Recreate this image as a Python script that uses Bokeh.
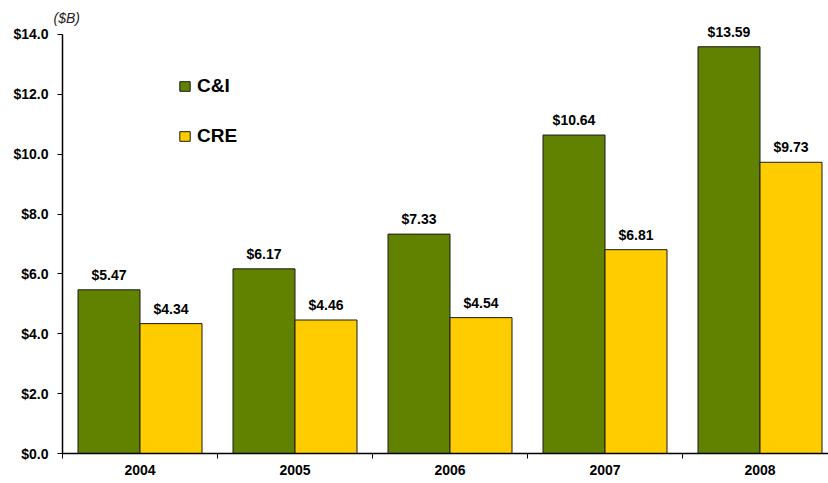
from bokeh.plotting import figure
from bokeh.models import (FixedTicker, Range1d, ColumnDataSource, Legend, LegendItem,
                          Label, NumeralTickFormatter)
from bokeh.embed import file_html
from bokeh.resources import INLINE
from bokeh.core.properties import value

years = ["2004", "2005", "2006", "2007", "2008"]
ci = [5.47, 6.17, 7.33, 10.64, 13.59]
cre = [4.34, 4.46, 4.54, 6.81, 9.73]
y_ticks = [0, 2, 4, 6, 8, 10, 12, 14]

GREEN = "#608200"
YELLOW = "#FFCC00"
FONT = "Liberation Sans"

n = len(years)
centers = [i + 0.5 for i in range(n)]
bounds = [i for i in range(n + 1)]
src = ColumnDataSource(dict(
    x_ci=[c - 0.2 for c in centers],
    x_cre=[c + 0.2 for c in centers],
    ci=ci, cre=cre,
    ci_lab=[f"${v:.2f}" for v in ci],
    cre_lab=[f"${v:.2f}" for v in cre],
))

W, H = 828, 483
PX_PER_UNIT = 29.93
AXIS_Y_PX = 453            # pixel row of the x axis (value 0)
Y_START = -(H - AXIS_Y_PX) / PX_PER_UNIT
Y_END = AXIS_Y_PX / PX_PER_UNIT
CAT_PX = 155
LEFT_PX = 62
X_START = -LEFT_PX / CAT_PX
X_END = (W - LEFT_PX) / CAT_PX

p = figure(width=W, height=H, output_backend="svg", toolbar_location=None,
           x_range=Range1d(X_START, X_END), y_range=Range1d(Y_START, Y_END),
           min_border_left=0, min_border_right=0, min_border_top=0,
           min_border_bottom=0)
p.outline_line_color = None
p.xgrid.visible = False
p.ygrid.visible = False
p.background_fill_color = "white"
p.border_fill_color = "white"

r1 = p.vbar(x="x_ci", top="ci", bottom=0, width=0.4, source=src, fill_color=GREEN,
            line_color="#1a1a1a", line_width=1)
r2 = p.vbar(x="x_cre", top="cre", bottom=0, width=0.4, source=src, fill_color=YELLOW,
            line_color="#1a1a1a", line_width=1)

for xcol, ycol, tcol in (("x_ci", "ci", "ci_lab"), ("x_cre", "cre", "cre_lab")):
    p.text(x=xcol, y=ycol, text=tcol, source=src, text_align="center",
           text_baseline="bottom", y_offset=-7, text_font=value(FONT),
           text_font_style="bold", text_font_size="14px", text_color="black")

# x axis, pinned at y = 0 inside the frame
xa = p.xaxis[0]
xa.fixed_location = 0
xa.ticker = FixedTicker(ticks=centers, minor_ticks=bounds)
xa.major_label_overrides = {c: y for c, y in zip(centers, years)}
xa.bounds = (0, X_END)
xa.major_tick_line_color = None
xa.minor_tick_line_color = "black"
xa.minor_tick_in = 0
xa.minor_tick_out = 5
xa.axis_line_color = "black"
xa.axis_line_width = 1.5
xa.major_label_text_font = FONT
xa.major_label_text_font_style = "bold"
xa.major_label_text_font_size = "14px"
xa.major_label_text_color = "black"
xa.major_label_standoff = 5

# y axis, pinned at x = 0 inside the frame
ya = p.yaxis[0]
ya.fixed_location = 0
ya.ticker = FixedTicker(ticks=y_ticks)
ya.formatter = NumeralTickFormatter(format="$0.0")
ya.bounds = (0, 14)
ya.minor_tick_line_color = None
ya.major_tick_in = 0
ya.major_tick_out = 5
ya.major_tick_line_color = "black"
ya.axis_line_color = "black"
ya.axis_line_width = 1.5
ya.major_label_text_font = FONT
ya.major_label_text_font_style = "bold"
ya.major_label_text_font_size = "14px"
ya.major_label_text_color = "black"
ya.major_label_standoff = 9

p.add_layout(Label(x=0, y=Y_END, x_offset=-9, y_offset=-17, text="($B)",
                   text_font=FONT, text_font_style="italic", text_font_size="14px",
                   text_color="#222222", text_baseline="middle"))

legend = Legend(items=[LegendItem(label="C&I", renderers=[r1]),
                       LegendItem(label="CRE", renderers=[r2])],
                location=(178, 336), orientation="vertical",
                glyph_width=13, glyph_height=12, label_height=12,
                spacing=28, padding=0, margin=0, label_standoff=6,
                label_text_font=FONT, label_text_font_style="bold",
                label_text_font_size="19px", label_text_baseline="middle",
                label_text_color="black",
                background_fill_alpha=0, border_line_color=None)
p.add_layout(legend)

open("out.html", "w").write(file_html(p, INLINE))
